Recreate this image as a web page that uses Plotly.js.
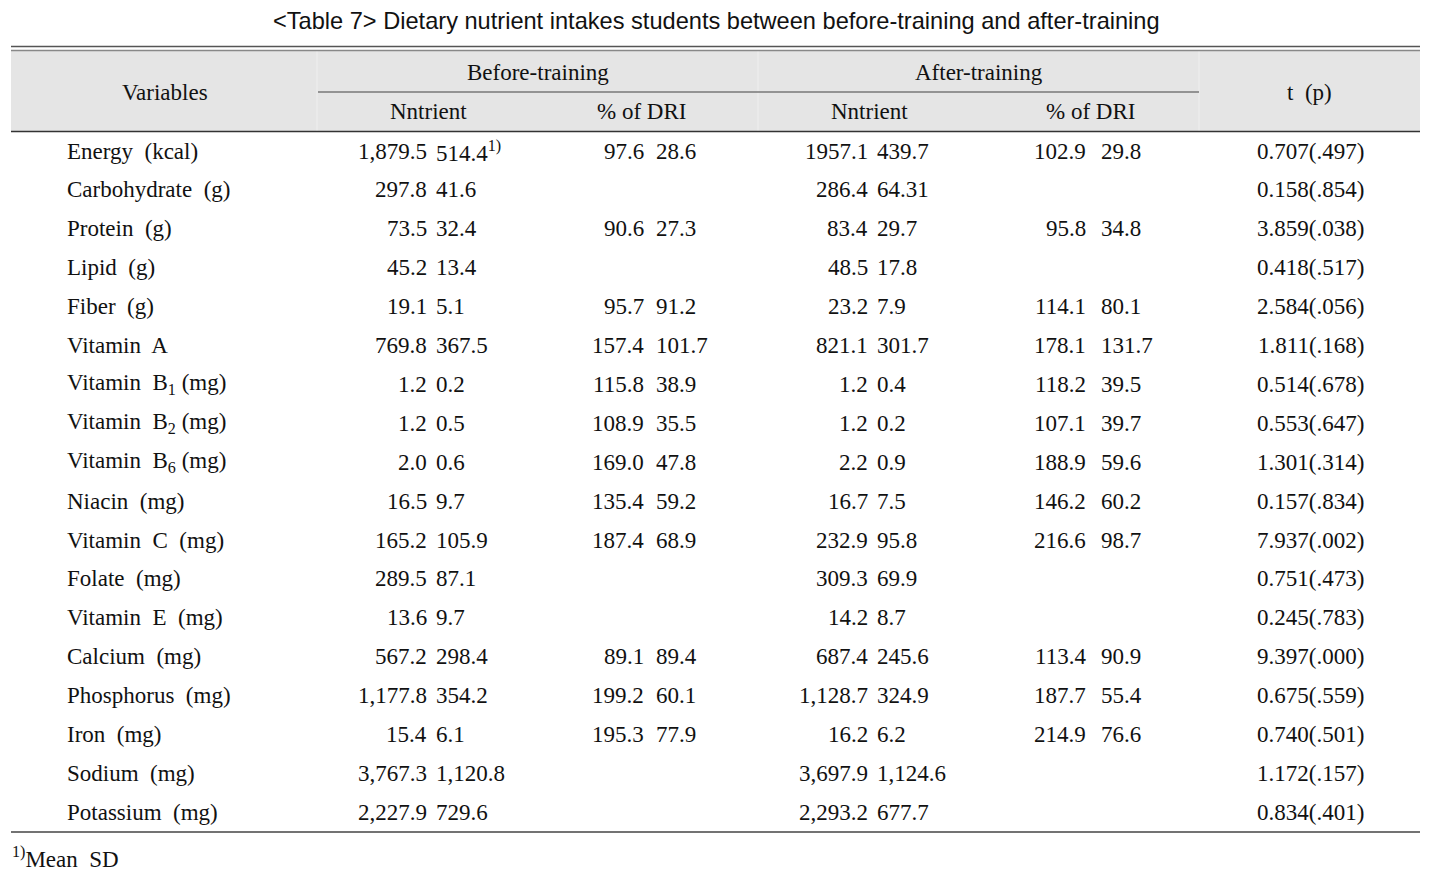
<!DOCTYPE html>
<html>
<head>
<meta charset="utf-8">
<script src="https://cdn.plot.ly/plotly-3.0.1.min.js"></script>
<style>html,body{margin:0;padding:0;background:#fff;}#chart{width:1439px;height:877px;}</style>
</head>
<body>
<div id="chart"></div>
<script>
// ---- data ----
var titleText = "&lt;Table 7&gt; Dietary nutrient intakes students between before-training and after-training";
var variables = ["Energy  (kcal)", "Carbohydrate  (g)", "Protein  (g)", "Lipid  (g)", "Fiber  (g)", "Vitamin  A",
  "Vitamin  B<sub>1</sub> (mg)", "Vitamin  B<sub>2</sub> (mg)", "Vitamin  B<sub>6</sub> (mg)", "Niacin  (mg)",
  "Vitamin  C  (mg)", "Folate  (mg)", "Vitamin  E  (mg)", "Calcium  (mg)", "Phosphorus  (mg)", "Iron  (mg)",
  "Sodium  (mg)", "Potassium  (mg)"];
var beforeMean = ["1,879.5", "297.8", "73.5", "45.2", "19.1", "769.8", "1.2", "1.2", "2.0", "16.5", "165.2", "289.5", "13.6", "567.2", "1,177.8", "15.4", "3,767.3", "2,227.9"];
var beforeSD = ["514.4<sup>1)</sup>", "41.6", "32.4", "13.4", "5.1", "367.5", "0.2", "0.5", "0.6", "9.7", "105.9", "87.1", "9.7", "298.4", "354.2", "6.1", "1,120.8", "729.6"];
var beforeDriMean = ["97.6", null, "90.6", null, "95.7", "157.4", "115.8", "108.9", "169.0", "135.4", "187.4", null, null, "89.1", "199.2", "195.3", null, null];
var beforeDriSD = ["28.6", null, "27.3", null, "91.2", "101.7", "38.9", "35.5", "47.8", "59.2", "68.9", null, null, "89.4", "60.1", "77.9", null, null];
var afterMean = ["1957.1", "286.4", "83.4", "48.5", "23.2", "821.1", "1.2", "1.2", "2.2", "16.7", "232.9", "309.3", "14.2", "687.4", "1,128.7", "16.2", "3,697.9", "2,293.2"];
var afterSD = ["439.7", "64.31", "29.7", "17.8", "7.9", "301.7", "0.4", "0.2", "0.9", "7.5", "95.8", "69.9", "8.7", "245.6", "324.9", "6.2", "1,124.6", "677.7"];
var afterDriMean = ["102.9", null, "95.8", null, "114.1", "178.1", "118.2", "107.1", "188.9", "146.2", "216.6", null, null, "113.4", "187.7", "214.9", null, null];
var afterDriSD = ["29.8", null, "34.8", null, "80.1", "131.7", "39.5", "39.7", "59.6", "60.2", "98.7", null, null, "90.9", "55.4", "76.6", null, null];
var tValues = ["0.707(.497)", "0.158(.854)", "3.859(.038)", "0.418(.517)", "2.584(.056)", "1.811(.168)", "0.514(.678)", "0.553(.647)", "1.301(.314)", "0.157(.834)", "7.937(.002)", "0.751(.473)", "0.245(.783)", "9.397(.000)", "0.675(.559)", "0.740(.501)", "1.172(.157)", "0.834(.401)"];
var headerGroups = ["Before-training", "After-training"];
var headerSub = ["Nntrient", "% of DRI", "Nntrient", "% of DRI"];
var footnote = "<sup>1)</sup>Mean  SD";

// ---- layout ----
var SERIF = "Liberation Serif, Times New Roman, serif";
var SANS = "Liberation Sans Narrow, Arial Narrow, Liberation Sans, Arial, sans-serif";
var FS = 23;
var rowY0 = 151, rowDY = 38.9;
var L = 11, R = 1420;

var ann = [];
function txt(x, y, t, xa, opts) {
  opts = opts || {};
  ann.push({x: x, y: y, xref: 'x', yref: 'y', text: t, showarrow: false,
    xanchor: xa, yanchor: 'middle',
    font: {family: opts.family || SERIF, size: opts.size || FS, color: opts.color || '#111'}});
}

txt(716, 21, titleText, 'center', {family: SANS, size: 23.6, color: '#111'});
txt(165, 92, "Variables", 'center');
txt(538, 72, headerGroups[0], 'center');
txt(979, 72, headerGroups[1], 'center');
var subX = [428, 641, 869, 1090];
headerSub.forEach(function (s, i) { txt(subX[i], 111, s, 'center'); });
txt(1309, 92, "t  (p)", 'center');

variables.forEach(function (v, i) {
  var y = rowY0 + i * rowDY;
  txt(65, y, v, 'left');
  txt(429, y, beforeMean[i], 'right');
  txt(434, y, beforeSD[i], 'left');
  if (beforeDriMean[i]) { txt(646, y, beforeDriMean[i], 'right'); txt(654, y, beforeDriSD[i], 'left'); }
  txt(870, y, afterMean[i], 'right');
  txt(875, y, afterSD[i], 'left');
  if (afterDriMean[i]) { txt(1088, y, afterDriMean[i], 'right'); txt(1099, y, afterDriSD[i], 'left'); }
  txt(1366, y, tValues[i], 'right');
});
txt(10, 857, footnote, 'left');

var shapes = [
  {type: 'rect', x0: L, x1: R, y0: 51, y1: 131, fillcolor: '#e5e5e5', line: {width: 0}, layer: 'below'},
  {type: 'line', x0: 317, x1: 317, y0: 51, y1: 131, line: {color: '#efefef', width: 1}},
  {type: 'line', x0: 758, x1: 758, y0: 51, y1: 131, line: {color: '#efefef', width: 1}},
  {type: 'line', x0: 1199, x1: 1199, y0: 51, y1: 131, line: {color: '#efefef', width: 1}},
  {type: 'line', x0: L, x1: R, y0: 46.5, y1: 46.5, line: {color: '#555', width: 1.5}},
  {type: 'line', x0: L, x1: R, y0: 50.5, y1: 50.5, line: {color: '#888', width: 1.5}},
  {type: 'line', x0: 318, x1: 1199, y0: 92, y1: 92, line: {color: '#777', width: 1.5}},
  {type: 'line', x0: L, x1: R, y0: 131.5, y1: 131.5, line: {color: '#333', width: 1.5}},
  {type: 'line', x0: L, x1: R, y0: 832, y1: 832, line: {color: '#444', width: 1.5}}
];

var layout = {
  width: 1439, height: 877,
  margin: {l: 0, r: 0, t: 0, b: 0},
  paper_bgcolor: '#fff', plot_bgcolor: '#fff',
  xaxis: {range: [0, 1439], visible: false, fixedrange: true},
  yaxis: {range: [877, 0], visible: false, fixedrange: true},
  showlegend: false,
  annotations: ann,
  shapes: shapes
};
Plotly.newPlot('chart', [], layout, {staticPlot: true, displayModeBar: false});
</script>
</body>
</html>
